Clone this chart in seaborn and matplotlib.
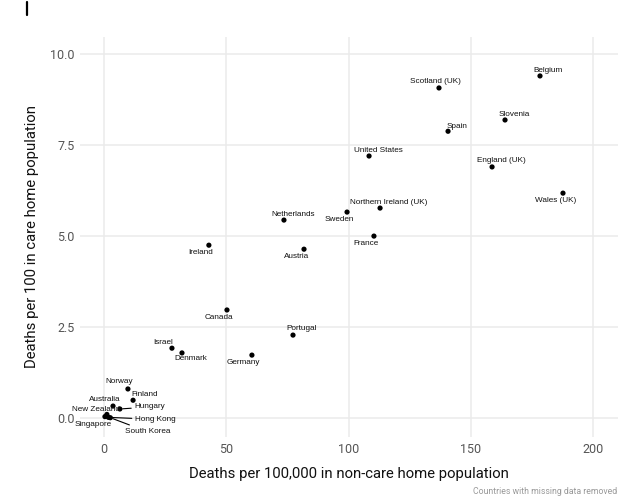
import matplotlib
matplotlib.use("Agg")
import matplotlib.pyplot as plt
import seaborn as sns
import pandas as pd

countries = ["Belgium", "Scotland (UK)", "Slovenia", "Spain", "United States",
             "England (UK)", "Wales (UK)", "Northern Ireland (UK)", "Sweden",
             "Netherlands", "France", "Austria", "Ireland", "Canada", "Portugal",
             "Israel", "Denmark", "Germany", "Norway", "Finland", "Australia",
             "Hungary", "New Zealand", "Hong Kong", "Singapore", "South Korea"]
non_care_deaths = [178.3, 137.0, 164.0, 140.7, 108.4, 158.7, 187.7, 112.9, 99.4,
                   73.6, 110.4, 81.8, 42.9, 50.3, 77.3, 27.8, 31.9, 60.5, 9.8,
                   11.9, 3.7, 6.5, 1.2, 1.8, 0.4, 2.6]
care_home_deaths = [9.40, 9.07, 8.19, 7.88, 7.20, 6.90, 6.18, 5.77, 5.66, 5.44,
                    5.00, 4.64, 4.75, 2.97, 2.28, 1.92, 1.79, 1.73, 0.80, 0.49,
                    0.33, 0.25, 0.10, 0.02, 0.04, 0.01]

x_ticks = [0, 50, 100, 150, 200]
y_ticks = [0.0, 2.5, 5.0, 7.5, 10.0]

# label offsets in pixels (dx, dy), and whether a connector segment is drawn
label_offsets = {
    "Belgium": (8, 5), "Scotland (UK)": (-4, 6), "Slovenia": (9, 5), "Spain": (9, 5),
    "United States": (9, 6), "England (UK)": (9, 6), "Wales (UK)": (-7, -7),
    "Northern Ireland (UK)": (9, 6), "Sweden": (-8, -7), "Netherlands": (9, 6),
    "France": (-8, -7), "Austria": (-7, -7), "Ireland": (-8, -7), "Canada": (-8, -8),
    "Portugal": (9, 7), "Israel": (-9, 6), "Denmark": (9, -6), "Germany": (-9, -7),
    "Norway": (-9, 7), "Finland": (12, 6), "Australia": (-8, 7), "Hungary": (30, 2),
    "New Zealand": (-11, 5), "Hong Kong": (47, -2), "Singapore": (-12, -8),
    "South Korea": (37, -14),
}
segments = {"Hungary", "Hong Kong", "South Korea"}

df = pd.DataFrame({"country": countries, "x": non_care_deaths, "y": care_home_deaths})

sns.set_theme(style="whitegrid")
plt.rcParams["font.family"] = ["Roboto", "DejaVu Sans"]

fig = plt.figure(figsize=(6.4, 4.99), dpi=100)
ax = fig.add_axes([80 / 640, 1 - 437 / 499, (618 - 80) / 640, (437 - 37) / 499])

sns.scatterplot(data=df, x="x", y="y", ax=ax, color="black", s=14,
                edgecolor="none", zorder=3)

for c, xv, yv in zip(countries, non_care_deaths, care_home_deaths):
    dx, dy = label_offsets[c]
    kw = {}
    if c in segments:
        kw["arrowprops"] = dict(arrowstyle="-", color="black", lw=0.8,
                                shrinkA=0, shrinkB=2)
    ax.annotate(c, (xv, yv), xytext=(dx, dy), textcoords="offset pixels",
                ha="center", va="center", fontsize=5.9,
                family=["Liberation Sans", "DejaVu Sans"], color="#111111",
                zorder=4, **kw)

ax.set_xlim(-9.8, 210.2)
ax.set_ylim(-0.52, 10.47)
ax.set_xticks(x_ticks)
ax.set_yticks(y_ticks)
ax.set_xticklabels([str(t) for t in x_ticks])
ax.set_yticklabels([f"{t:.1f}" for t in y_ticks])
ax.tick_params(axis="both", length=0, labelsize=9, labelcolor="#555555", pad=4)
ax.set_facecolor("white")
for s in ax.spines.values():
    s.set_visible(False)
ax.grid(True, color="#ebebeb", linewidth=1.1)
ax.set_axisbelow(True)

ax.set_xlabel("Deaths per 100,000 in non-care home population", fontsize=10.7,
              color="#111111", labelpad=8)
ax.set_ylabel("Deaths per 100 in care home population", fontsize=10.7,
              color="#111111", labelpad=8)

fig.text(617 / 640, 1 - 492 / 499, "Countries with missing data removed",
         ha="right", va="center", fontsize=6.3, color="#999999")

# small vertical bar at top left
fig.add_artist(plt.Line2D([27 / 640, 27 / 640], [1 - 15 / 499, 1 - 2 / 499],
                          color="black", linewidth=1.6, transform=fig.transFigure))

fig.savefig("out.png", dpi=100)
